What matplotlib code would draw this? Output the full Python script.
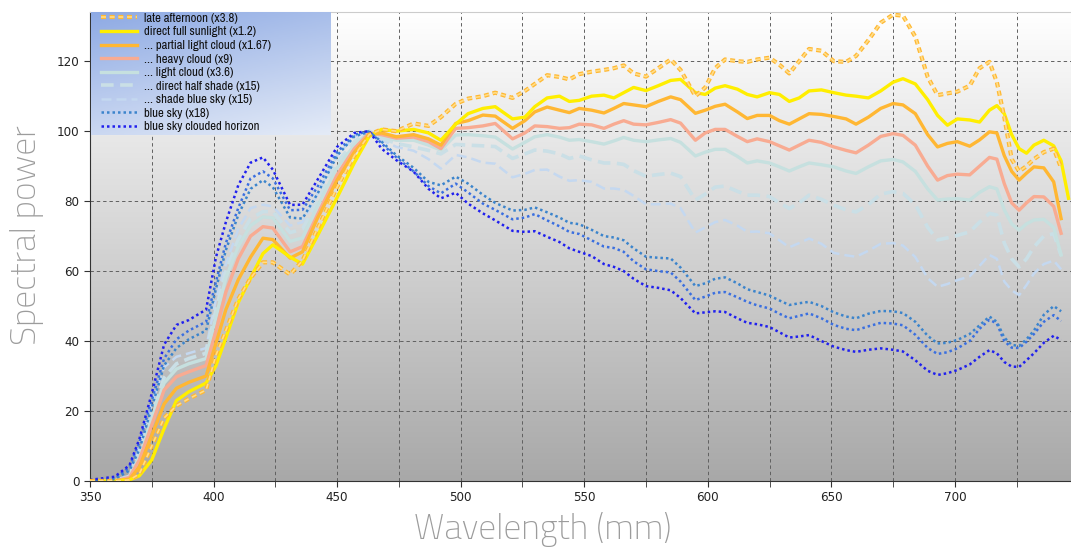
import numpy as np
import matplotlib
matplotlib.use('Agg')
import matplotlib.pyplot as plt
from matplotlib import patheffects
from matplotlib.colors import LinearSegmentedColormap

nan = np.nan

wavelength = [350, 360, 366, 370, 375, 380, 385, 390, 397, 401, 405, 410, 415, 420, 424, 431, 436, 442, 450, 457,
              463, 468, 474, 481, 487, 492, 498, 503, 509, 514, 521, 526, 530, 535, 540, 544, 548, 553, 558, 562,
              566, 570, 575, 580, 585, 589, 595, 599, 603, 607, 612, 616, 620, 625, 629, 633, 637, 641, 646, 651,
              656, 660, 665, 670, 675, 679, 684, 689, 693, 697, 701, 706, 710, 714, 717, 720, 723, 726, 729, 732,
              736, 740, 743, 746]

late_afternoon = [0, 0, 0.3, 2, 10, 18, 21.5, 23.5, 26, 36, 43, 52, 58, 62.5, 62.5, 59, 63, 72, 84, 93,
                  99, 100.5, 100, 102.2, 101.5, 104, 107.8, 109.3, 110, 111, 109.5, 111.5, 113.5, 116, 115.5, 114.8, 116.3, 117, 117.5, 118,
                  118.8, 116.5, 115.6, 118, 120.5, 117.5, 110, 112.5, 118, 120.5, 120, 119.8, 120.5, 121, 119, 116.5, 120, 123.5, 123, 120,
                  119.8, 121.5, 126, 131, 133.3, 133, 127, 115.5, 110.3, 110.8, 111.3, 113, 118, 119.8, 114, 104, 92, 88.5, 90, 92,
                  94, 95, 89.5, nan]
full_sun = [0, 0, 0.3, 1.5, 6, 15, 23, 25.5, 28, 33, 41, 51, 58, 65, 67.5, 64, 62, 70, 81, 91,
            98.5, 100.5, 100, 100.5, 99.5, 97.4, 102, 105, 106.5, 107, 103.5, 104, 107, 109.5, 110, 108.5, 108.8, 110, 110.3, 109.5,
            111, 112.5, 111.6, 113, 114.5, 114.8, 111, 110.5, 112.3, 113, 112, 110.5, 109.8, 111, 110.5, 108.5, 109.5, 111.5, 111.8, 111,
            110.3, 110, 109.5, 111.5, 114, 115, 113.5, 109, 104.5, 101.7, 103.5, 103.2, 102.6, 106, 107.3, 105, 99, 95, 93.7, 96,
            97.4, 95.8, 91.5, 80.8]
partial_cloud = [0, 0, 0.5, 4, 13, 22, 26.5, 28.2, 30, 39.4, 49, 57.5, 64, 69.4, 69, 63.7, 65.5, 75, 86, 94,
                 99, 99.5, 98.4, 99, 97.8, 96, 102.2, 103, 104.6, 104.3, 100.8, 103, 105.5, 106.9, 106, 105.3, 106.5, 106, 105.2, 106.5,
                 107.9, 107.5, 107, 108.5, 109.8, 109, 105.1, 106, 107.1, 107.7, 105.5, 103.6, 104.5, 104.5, 103, 102, 103.5, 105, 104.8, 104.2,
                 103.5, 102, 104, 106.5, 107.9, 107.5, 105, 99, 95.5, 96.5, 97, 95.7, 97.5, 99.8, 99.5, 93, 88.5, 86, 88, 89.8,
                 89.5, 85.5, 75, nan]
heavy_cloud = [0, 0, 1, 6, 16, 26, 29.8, 31.2, 33, 43, 54, 63.5, 70, 72.7, 72.3, 65.5, 67, 76, 87.5, 95,
               99.5, 99, 98, 98.3, 97, 95, 100.8, 101, 101.5, 102.2, 97.8, 99.5, 101.5, 101.3, 100.8, 101, 102, 101.8, 100.8, 102,
               103, 102, 101.8, 102.5, 103.3, 102.3, 97.4, 99.5, 100.5, 100.5, 98.5, 97, 97.8, 97, 95.8, 94.6, 96, 97.4, 96.8, 95.5,
               94.5, 93.8, 96, 98.5, 99.3, 98.8, 96, 90, 86, 87.3, 87.7, 87.5, 90, 92.5, 92, 85, 79.5, 77.4, 79.5, 81.3,
               81.2, 78.5, 70.8, nan]
light_cloud = [0, 0, 1, 7, 18, 28, 32, 33.5, 35, 47, 58, 67, 73, 75.5, 75.2, 68.5, 69.5, 78.5, 89.5, 96,
               99.8, 98.5, 97.4, 97.4, 96, 94.6, 98.9, 99, 98.7, 98.3, 94.9, 96.8, 98.4, 99, 98.3, 97.4, 97.6, 97, 96.3, 97.2,
               98.2, 97.4, 97, 97.5, 97.9, 96.8, 92.9, 94, 94.8, 94.8, 92.8, 90.9, 91.5, 90.9, 89.8, 88.6, 89.8, 90.9, 90.4, 89.8,
               88.6, 87.9, 89.8, 91.5, 91.9, 91.2, 88.5, 83.5, 80.3, 80.6, 80.7, 80.3, 82.5, 84.1, 83.5, 77.5, 73.5, 71.7, 73.5, 74.6,
               74.8, 72.5, 64.6, nan]
half_shade = [0, 0, 1.2, 8, 19, 29.5, 33.5, 35, 36.5, 49, 60, 69, 75, 77, 77, 71, 72, 80, 91, 97,
              100, 98, 96.5, 95.5, 94.5, 93.5, 96.2, 96, 95.8, 95.6, 92.2, 93.5, 94.6, 94.3, 93.5, 92.2, 92.9, 91.8, 90.9, 90.9,
              90.5, 88.7, 87.1, 87.6, 88, 87, 80.3, 82, 84, 84.3, 82.8, 81.7, 81.7, 81.3, 79.5, 77.9, 79.5, 81.7, 80.5, 78.8,
              77.5, 76.9, 79, 82, 82.7, 82.2, 79, 72.5, 68.9, 69.5, 70.2, 71.2, 74, 76.5, 76, 68, 63.5, 61.2, 63.5, 66.9,
              70, 70.7, 64.5, nan]
shade_blue_sky = [0, 0.3, 1.5, 10, 22, 32.5, 35.5, 36.5, 38, 52, 62, 72, 78, 79, 78.5, 73, 74, 82, 93, 98.5,
                  100, 97.5, 95.5, 94.4, 92, 89.3, 93.2, 92.5, 91, 90.7, 86.8, 87.8, 88.9, 89, 87, 85.8, 86, 85.5, 83.6, 83.6,
                  83.2, 81.5, 79.1, 79.1, 79.3, 78, 71, 72.5, 74, 74.6, 73, 71.2, 71.3, 70.8, 68.8, 66.8, 68, 69.3, 67.8, 65.2,
                  64.5, 64.1, 65.8, 67.8, 68, 67.3, 64, 58, 55.5, 56.3, 57.4, 58.5, 61.5, 64.6, 63.5, 57, 54.5, 53.1, 56, 59.3,
                  62, 63, 60.5, nan]
blue_sky = [0, 0.5, 3, 9, 21, 33, 38, 40.5, 43, 55, 66, 76, 83.5, 86, 84, 75.3, 75, 82, 93, 98.5,
            99.8, 97, 93.1, 89.5, 85.5, 84.5, 87, 85, 81.8, 79.5, 77.3, 77.5, 78.2, 76.8, 75.3, 73.8, 73.4, 71.8, 70, 69.6,
            68.8, 66.5, 64.1, 63.8, 63.6, 61, 55.7, 56.5, 57.8, 58.2, 56.5, 54.8, 54, 53, 51.6, 50.3, 50.8, 51.2, 50, 48.2,
            47, 46.5, 47.8, 48.6, 48.5, 48, 45.5, 41.5, 39.3, 39.5, 40.3, 42, 44.5, 47, 45.5, 41, 38.9, 38.6, 40.5, 43,
            47.5, 50, 48.5, nan]
blue_sky_2 = [0, 0.7, 4, 11, 23, 35, 40.5, 43, 45.5, 57, 68, 78, 86.5, 88.5, 86.5, 77.4, 77.5, 84, 94, 99,
              100, 96.5, 92.5, 88.5, 84.3, 82.2, 85, 82.5, 79.3, 77.5, 74.8, 75.3, 76.3, 74.5, 72.8, 71.2, 70.6, 68.8, 67, 66.6,
              65.5, 62.8, 60.5, 60, 59.6, 57, 51.7, 52.7, 53.8, 54, 52.5, 51.2, 50.2, 49.3, 47.8, 46.5, 47.2, 47.9, 46.5, 44.6,
              43.5, 43.1, 44.2, 45.2, 45, 44.5, 41.8, 38, 36.3, 36.8, 37.9, 40, 43.5, 46.1, 45, 40, 38.1, 38, 39.8, 42,
              45.5, 47.4, 45.7, nan]
clouded_horizon = [0.3, 1.2, 4.5, 12, 25, 39, 44.6, 46, 49, 64, 74, 84.5, 91, 92.5, 89, 78.9, 79, 86, 95.5, 99.5,
                   100, 95, 91.7, 88.4, 83.5, 80.8, 82.4, 79.3, 76.5, 74.5, 71.5, 71.2, 71.4, 69.8, 68.3, 66.5, 65.5, 64.3, 62, 61.2,
                   60, 57.8, 55.7, 55.2, 54.5, 52.3, 47.9, 48.2, 48.5, 48.3, 46.5, 45.2, 44.8, 44, 42.5, 41, 41.3, 41.7, 40, 38.4,
                   37.4, 36.9, 37.5, 37.9, 37.5, 37, 34.5, 31.5, 30.3, 30.8, 31.7, 33.3, 35.5, 37.4, 36.5, 34, 32.7, 32.6, 34.5, 36.5,
                   39.5, 41.5, 40.3, nan]

x_ticks = [350, 400, 450, 500, 550, 600, 650, 700]
y_ticks = [0, 20, 40, 60, 80, 100, 120]

legend_labels = ['late afternoon (x3.8)', 'direct full sunlight (x1.2)', '... partial light cloud (x1.67)',
                 '... heavy cloud (x9)', '... light cloud (x3.6)', '... direct half shade (x15)',
                 '... shade blue sky (x15)', 'blue sky (x18)', 'blue sky clouded horizon']

fig = plt.figure(figsize=(10.71, 5.56), dpi=100)
ax = fig.add_axes([0.084, 0.135, 0.916, 0.843])

# grey gradient behind the plot
bg = LinearSegmentedColormap.from_list('bg', ['#a8a8a8', '#ffffff'])
ax.imshow(np.linspace(1, 0, 256).reshape(-1, 1), cmap=bg, extent=[0, 1, 0, 1],
          transform=ax.transAxes, aspect='auto', zorder=0)

ax.plot(wavelength, shade_blue_sky, color='#c4d8f0', lw=1.8, ls=(0, (4, 2)), zorder=2)
ax.plot(wavelength, half_shade, color='#cadfe6', lw=2.6, ls=(0, (3.5, 1.8)), zorder=2)
ax.plot(wavelength, light_cloud, color='#c6e0df', lw=2.4, zorder=2)
ax.plot(wavelength, heavy_cloud, color='#f8ab92', lw=2.4, zorder=2)
ax.plot(wavelength, partial_cloud, color='#ffb733', lw=2.4, zorder=2)
ax.plot(wavelength, full_sun, color='#ffee00', lw=2.4, zorder=2)
ax.plot(wavelength, late_afternoon, color='#ffdd88', lw=1.2, ls=(0, (3, 2.2)), zorder=3,
        path_effects=[patheffects.Stroke(linewidth=3.0, foreground='#ffb833'), patheffects.Normal()])
ax.plot(wavelength, blue_sky_2, color='#3a6fe0', lw=1.8, ls=(0, (1, 1.2)), zorder=2)
ax.plot(wavelength, blue_sky, color='#3b84cc', lw=1.8, ls=(0, (1, 1.2)), zorder=2)
ax.plot(wavelength, clouded_horizon, color='#2020ee', lw=1.8, ls=(0, (1, 1.2)), zorder=2)

ax.set_xlim(350, 747)
ax.set_ylim(0, 134)
ax.set_xticks(x_ticks)
ax.set_xticks(np.arange(375, 747, 50), minor=True)
ax.set_yticks(y_ticks)
ax.set_axisbelow(True)
ax.grid(True, which='both', axis='x', color='#606060', lw=0.7, ls=(0, (3.5, 3)))
ax.grid(True, which='major', axis='y', color='#606060', lw=0.7, ls=(0, (3.5, 3)))
ax.tick_params(which='both', direction='out', length=4, color='#333333', labelsize=9.5, labelcolor='#222222')
for lab in ax.get_xticklabels() + ax.get_yticklabels():
    lab.set_family('DejaVu Sans')
    lab.set_stretch('condensed')
ax.spines['right'].set_visible(False)
ax.spines['top'].set_color('#cccccc')
ax.spines['left'].set_color('#333333')
ax.spines['bottom'].set_color('#333333')

lab_font = dict(family=['Titillium Web', 'Open Sans', 'DejaVu Sans'], fontweight='light',
                fontsize=25.5, color='#9c9c9c')
fig.text(0.507, 0.047, 'Wavelength (mm)', ha='center', va='center', **lab_font)
fig.text(0.025, 0.577, 'Spectral power', ha='center', va='center', rotation=90, **lab_font)

# legend with a blue gradient box
handles = ax.get_lines()
order = [6, 5, 4, 3, 2, 1, 0, 8, 9]
leg = ax.legend([handles[i] for i in order], legend_labels, loc='upper left', bbox_to_anchor=(0.011, 1.0),
                frameon=False, prop={'family': ['Archivo Narrow', 'DejaVu Sans'], 'size': 9.2},
                handlelength=2.8, handletextpad=0.5, labelspacing=0.2, borderaxespad=0.0, borderpad=0.05)
leg.set_zorder(5)
for t in leg.get_texts():
    t.set_color('#111111')
xx, yy = np.meshgrid(np.linspace(0, 1, 64), np.linspace(0, 1, 64))
lg = LinearSegmentedColormap.from_list('lg', ['#8eaae4', '#e4ebf7'])
ax.imshow(0.7 * yy + 0.3 * xx, cmap=lg, extent=[0.001, 0.245, 0.738, 1.0],
          transform=ax.transAxes, aspect='auto', zorder=4)
ax.set_xlim(350, 747)
ax.set_ylim(0, 134)

fig.savefig('out.png', dpi=100)
